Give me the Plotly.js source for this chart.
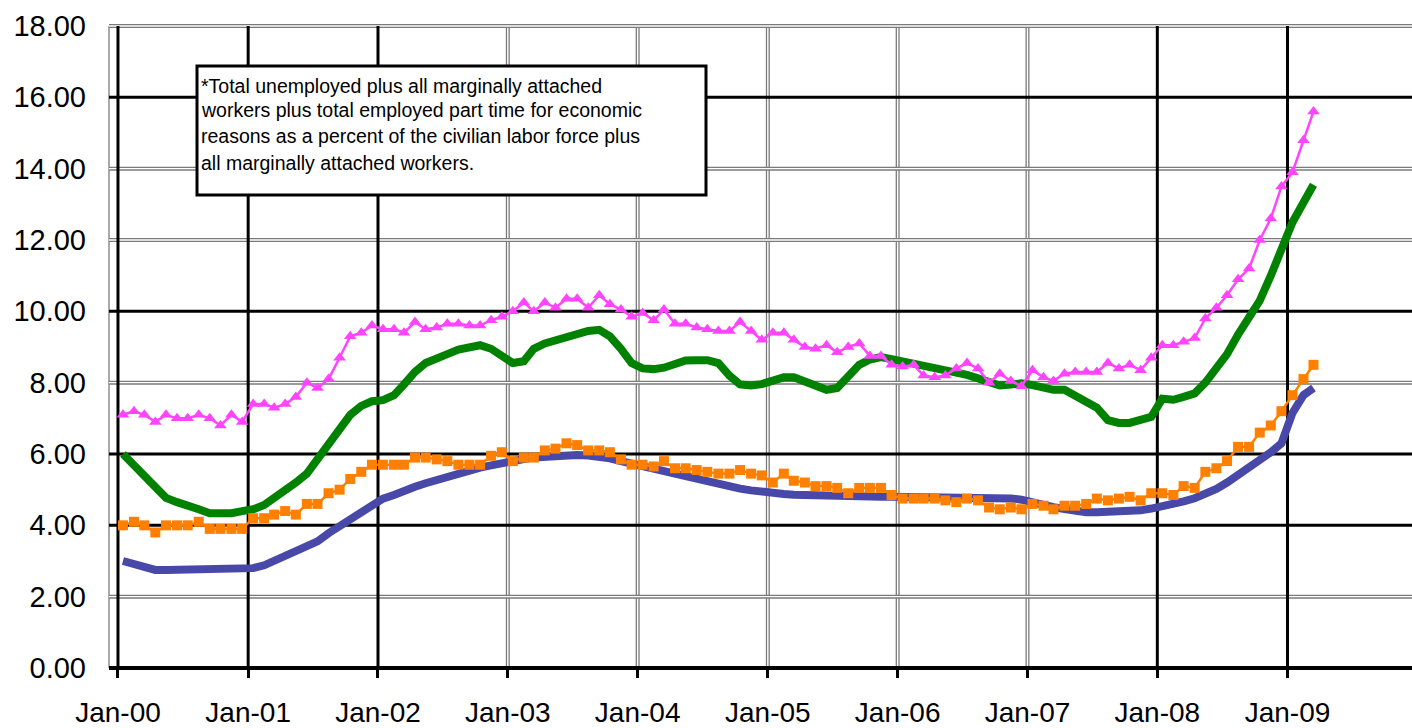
<!DOCTYPE html>
<html><head><meta charset="utf-8">
<script src="https://cdn.plot.ly/plotly-3.0.1.min.js"></script>
<style>html,body{margin:0;padding:0;background:#fff;overflow:hidden}#chart{width:1412px;height:728px}</style>
</head><body><div id="chart"></div>
<script>
// ---------- data ----------
const startYear = 2000;
const monthCount = 111; // Jan 2000 .. Mar 2009
const tickDates = ['2000-01-01','2001-01-01','2002-01-01','2003-01-01','2004-01-01','2005-01-01','2006-01-01','2007-01-01','2008-01-01','2009-01-01'];
const tickLabels = ['Jan-00','Jan-01','Jan-02','Jan-03','Jan-04','Jan-05','Jan-06','Jan-07','Jan-08','Jan-09'];
const yTicks = [0,2,4,6,8,10,12,14,16,18];

// pink triangles (U-6*)
const u6Rate = [
 7.1,7.2,7.1,6.9,7.1,7.0,7.0,7.1,7.0,6.8,7.1,6.9,
 7.4,7.4,7.3,7.4,7.6,8.0,7.85,8.1,8.7,9.3,9.4,9.6,
 9.5,9.5,9.4,9.7,9.5,9.55,9.65,9.65,9.6,9.6,9.75,9.85,
 10.0,10.25,10.0,10.25,10.1,10.35,10.35,10.1,10.45,10.2,10.05,9.85,
 9.95,9.75,10.05,9.65,9.65,9.55,9.5,9.45,9.45,9.7,9.45,9.2,
 9.4,9.4,9.2,9.0,8.95,9.05,8.85,9.0,9.1,8.75,8.75,8.5,
 8.45,8.5,8.2,8.15,8.2,8.4,8.55,8.4,8.0,8.25,8.05,7.9,
 8.35,8.15,8.05,8.25,8.3,8.3,8.3,8.55,8.4,8.5,8.35,8.7,
 9.05,9.05,9.15,9.25,9.8,10.1,10.45,10.9,11.2,12.0,12.6,13.5,
 13.9,14.8,15.6];

// orange squares
const u3Rate = [
 4.0,4.1,4.0,3.8,4.0,4.0,4.0,4.1,3.9,3.9,3.9,3.9,
 4.2,4.2,4.3,4.4,4.3,4.6,4.6,4.9,5.0,5.3,5.5,5.7,
 5.7,5.7,5.7,5.9,5.9,5.85,5.8,5.7,5.7,5.7,5.95,6.05,
 5.8,5.9,5.9,6.1,6.15,6.3,6.25,6.1,6.1,6.05,5.85,5.7,
 5.7,5.65,5.8,5.6,5.6,5.55,5.5,5.45,5.45,5.55,5.45,5.4,
 5.2,5.45,5.25,5.2,5.1,5.1,5.05,4.9,5.05,5.05,5.05,4.85,
 4.75,4.75,4.75,4.75,4.7,4.65,4.75,4.7,4.5,4.45,4.5,4.45,
 4.6,4.55,4.45,4.55,4.55,4.6,4.75,4.7,4.75,4.8,4.7,4.9,
 4.9,4.85,5.1,5.05,5.5,5.6,5.8,6.2,6.2,6.6,6.8,7.2,
 7.65,8.1,8.5];

// thick green line
const greenLine = [
 6.0,5.7,5.35,5.05,4.77,4.65,4.57,4.45,4.34,4.32,4.34,4.4,
 4.45,4.57,4.75,4.95,5.2,5.45,5.85,6.3,6.7,7.1,7.35,7.48,
 7.51,7.65,7.95,8.3,8.55,8.65,8.8,8.93,9.0,9.05,8.95,8.75,
 8.55,8.6,8.95,9.1,9.2,9.3,9.38,9.45,9.48,9.3,8.95,8.55,
 8.4,8.38,8.42,8.5,8.62,8.63,8.63,8.55,8.2,7.95,7.92,7.96,
 8.05,8.15,8.15,8.05,7.9,7.8,7.85,8.2,8.5,8.65,8.72,8.66,
 8.6,8.55,8.48,8.42,8.37,8.3,8.22,8.12,8.02,7.92,7.95,7.98,
 7.93,7.85,7.8,7.8,7.62,7.45,7.3,6.95,6.87,6.87,6.95,7.04,
 7.55,7.52,7.6,7.7,8.0,8.4,8.8,9.35,9.85,10.3,11.0,11.8,
 12.5,13.05,13.55];

// thick blue line
const blueLine = [
 3.0,2.92,2.83,2.75,2.75,2.75,2.75,2.75,2.75,2.75,2.75,2.75,
 2.8,2.88,3.0,3.12,3.25,3.38,3.55,3.78,3.98,4.15,4.35,4.58,
 4.75,4.85,4.98,5.08,5.18,5.28,5.36,5.45,5.53,5.62,5.68,5.75,
 5.8,5.86,5.9,5.93,5.96,5.97,5.97,5.96,5.93,5.88,5.8,5.72,
 5.66,5.6,5.53,5.45,5.38,5.3,5.22,5.15,5.08,5.03,4.98,4.93,
 4.9,4.88,4.86,4.85,4.82,4.8,4.8,4.8,4.8,4.8,4.8,4.8,
 4.8,4.8,4.8,4.8,4.8,4.8,4.8,4.8,4.8,4.8,4.75,4.72,
 4.63,4.57,4.51,4.46,4.41,4.37,4.37,4.37,4.37,4.37,4.42,4.47,
 4.52,4.6,4.67,4.76,4.86,5.02,5.2,5.4,5.6,5.8,6.05,6.3,
 7.15,7.65,7.85];

const noteLines = [
 '*Total unemployed plus all marginally attached',
 'workers plus total employed part time for economic',
 'reasons as a percent of the civilian labor force plus',
 'all marginally attached workers.'
];

// ---------- build ----------
const months = [];
for (let i = 0; i < monthCount; i++) {
  const y = startYear + Math.floor(i / 12);
  const m = (i % 12) + 1;
  months.push(y + '-' + String(m).padStart(2, '0') + '-15');
}

const FONT = 'Liberation Sans, Arial, sans-serif';
const W = 1412, H = 728;
const L = 109, R = 0, T = 26, B = 60;
const plotW = W - L - R, plotH = H - T - B;
const px2paperX = px => (px - L) / plotW;
const px2paperY = py => (H - B - py) / plotH;

const traces = [
  {x: months, y: blueLine, mode: 'lines', name: 'Series A',
   line: {color: '#4848A8', width: 8}},
  {x: months, y: greenLine, mode: 'lines', name: 'Series B',
   line: {color: '#008200', width: 8}},
  {x: months, y: u3Rate, mode: 'lines+markers', name: 'Unemployment rate',
   line: {color: '#FF8000', width: 2.5},
   marker: {symbol: 'square', size: 10, color: '#FF8000'}},
  {x: months, y: u6Rate, mode: 'lines+markers', name: 'U-6*',
   line: {color: '#FF44FF', width: 2.5},
   marker: {symbol: 'triangle-up', size: 11, color: '#FF44FF'}}
];

// gridline styles
const blackH = [0, 4, 6, 10, 16];
const doubleH = [2, 8, 12, 14, 18];
const blackV = ['2000-01-01','2001-01-01','2002-01-01','2008-01-01','2009-01-01'];
const doubleV = ['2003-01-01','2004-01-01','2005-01-01','2006-01-01','2007-01-01'];

const shapes = [];
shapes.push({type:'line', xref:'paper', yref:'paper', x0:0, x1:0, y0:0, y1:1,
  line:{color:'#aaaaaa', width:2}, layer:'below'});
doubleV.forEach(d => {
  shapes.push({type:'line', xref:'x', yref:'paper', x0:d, x1:d, y0:0, y1:1,
    line:{color:'#7a7a7a', width:4}, layer:'below'});
  shapes.push({type:'line', xref:'x', yref:'paper', x0:d, x1:d, y0:0, y1:1,
    line:{color:'#ffffff', width:1.4}, layer:'below'});
});
doubleH.forEach(v => {
  shapes.push({type:'line', xref:'paper', yref:'paper', x0:0, x1:1, y0:v/18, y1:v/18,
    line:{color:'#7a7a7a', width:4}, layer:'below'});
  shapes.push({type:'line', xref:'paper', yref:'paper', x0:0, x1:1, y0:v/18, y1:v/18,
    line:{color:'#ffffff', width:1.4}, layer:'below'});
});
blackV.forEach(d => {
  shapes.push({type:'line', xref:'x', yref:'paper', x0:d, x1:d, y0:0, y1:1,
    line:{color:'#000000', width:3}, layer:'below'});
});
blackH.forEach(v => {
  shapes.push({type:'line', xref:'paper', yref:'paper', x0:0, x1:1, y0:v/18, y1:v/18,
    line:{color:'#000000', width: v === 0 ? 4 : 3}, layer:'below'});
});
shapes.push({type:'rect', xref:'paper', yref:'paper',
  x0: px2paperX(197), x1: px2paperX(706), y0: px2paperY(195), y1: px2paperY(66),
  fillcolor:'#ffffff', line:{color:'#000000', width:3}, layer:'above'});

const noteY = [86, 110, 136, 163];
const annotations = noteLines.map((t, i) => ({
  xref:'paper', yref:'paper', x: px2paperX(199), y: px2paperY(noteY[i]),
  xanchor:'left', yanchor:'middle', text: t, showarrow:false,
  font:{family: FONT, size: 19.5, color:'#000'}
}));

const layout = {
  width: W, height: H,
  margin: {l: L, r: R, t: T, b: B, pad: 0},
  paper_bgcolor: '#ffffff', plot_bgcolor: '#ffffff',
  showlegend: false,
  font: {family: FONT, color: '#000'},
  xaxis: {
    type: 'date', range: ['1999-12-06 18:00', '2009-12-17'],
    tickvals: tickDates, ticktext: tickLabels,
    ticks: 'outside', ticklen: 9, tickwidth: 3, tickcolor: '#000',
    showgrid: false, zeroline: false, showline: false,
    tickfont: {family: FONT, size: 28, color: '#000'},
    ticklabelstandoff: 10
  },
  yaxis: {
    range: [0, 18], tickvals: yTicks, tickformat: '.2f',
    showgrid: false, zeroline: false, showline: false, ticks: '',
    tickfont: {family: FONT, size: 29, color: '#000'},
    ticklabelstandoff: 22
  },
  shapes: shapes,
  annotations: annotations
};

Plotly.newPlot('chart', traces, layout, {displayModeBar: false, staticPlot: true});
</script>
</body></html>
